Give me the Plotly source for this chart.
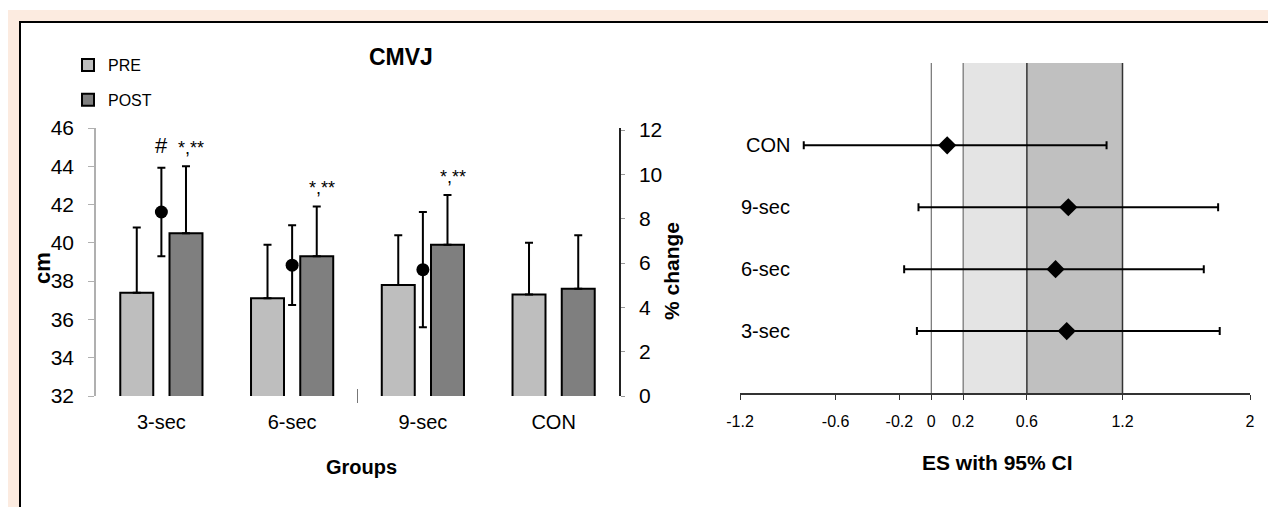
import plotly.graph_objects as go

# page body keeps an 8px margin; the figure fills the rest of the window
OFF = 8
W, H = 1276 - OFF, 507 - OFF

# ---------------- data ----------------
groups = ["3-sec", "6-sec", "9-sec", "CON"]
pre_mean = [37.4, 37.1, 37.8, 37.3]
pre_sd = [3.4, 2.8, 2.6, 2.7]
post_mean = [40.5, 39.3, 39.9, 37.6]
post_sd = [3.5, 2.6, 2.6, 2.8]
pct_groups = ["3-sec", "6-sec", "9-sec"]
pct_change = [8.3, 5.9, 5.7]
pct_sd = [2.0, 1.8, 2.6]
post_marks = ["*,**", "*,**", "*,**", ""]
pct_marks = ["#", "", ""]

es_groups = ["3-sec", "6-sec", "9-sec", "CON"]
es_value = [0.85, 0.78, 0.86, 0.10]
es_lo = [-0.09, -0.17, -0.08, -0.80]
es_hi = [1.81, 1.71, 1.80, 1.10]
es_ticks = [-1.2, -0.6, -0.2, 0, 0.2, 0.6, 1.2, 2]
es_bands = [(0.2, 0.6, "#E4E4E4"), (0.6, 1.2, "#C0C0C0")]
es_lines = [0, 0.2, 0.6, 1.2]

FONT = "Liberation Sans, Arial, sans-serif"


def px_x(p):
    return (p - OFF) / W


def px_y(p):
    return 1 - (p - OFF) / H


fig = go.Figure()

fig.add_trace(go.Bar(
    x=groups, y=pre_mean, name="PRE", legendgroup="pre",
    marker=dict(color="#BEBEBE", line=dict(color="black", width=2)),
    error_y=dict(type="data", array=pre_sd, arrayminus=[0] * len(pre_sd), symmetric=False,
                 color="black", thickness=2, width=4),
    xaxis="x", yaxis="y",
))
fig.add_trace(go.Bar(
    x=groups, y=post_mean, name="POST", legendgroup="post",
    marker=dict(color="#7F7F7F", line=dict(color="black", width=2)),
    error_y=dict(type="data", array=post_sd, arrayminus=[0] * len(post_sd), symmetric=False,
                 color="black", thickness=2, width=4),
    xaxis="x", yaxis="y",
))
fig.add_trace(go.Scatter(
    x=pct_groups, y=pct_change, mode="markers", showlegend=False,
    marker=dict(color="black", size=13),
    error_y=dict(type="data", array=pct_sd, color="black", thickness=2, width=4),
    xaxis="x", yaxis="y2",
))

fig.add_trace(go.Scatter(
    x=es_value, y=es_groups, mode="markers", showlegend=False,
    marker=dict(symbol="diamond", color="black", size=14),
    error_x=dict(type="data",
                 array=[h - v for h, v in zip(es_hi, es_value)],
                 arrayminus=[v - l for v, l in zip(es_value, es_lo)],
                 symmetric=False, color="black", thickness=2, width=4),
    xaxis="x3", yaxis="y3",
))

shapes = []
# page frame
shapes.append(dict(type="rect", xref="paper", yref="paper", x0=0, x1=1, y0=px_y(22), y1=px_y(10),
                   fillcolor="#FCEBE0", line=dict(width=0), layer="below"))
shapes.append(dict(type="rect", xref="paper", yref="paper", x0=0, x1=px_x(20), y0=0, y1=px_y(22),
                   fillcolor="#FCEBE0", line=dict(width=0), layer="below"))
shapes.append(dict(type="line", xref="paper", yref="paper", x0=px_x(19), x1=px_x(1271), y0=px_y(22), y1=px_y(22),
                   line=dict(color="black", width=2)))
shapes.append(dict(type="line", xref="paper", yref="paper", x0=px_x(20), x1=px_x(20), y0=0, y1=px_y(22),
                   line=dict(color="black", width=2)))
# stray tick between category groups
shapes.append(dict(type="line", xref="x", yref="paper", x0=1.5, x1=1.5, y0=px_y(403), y1=px_y(389),
                   line=dict(color="#777777", width=1)))
# ES bands and reference lines
for a, b, c in es_bands:
    shapes.append(dict(type="rect", xref="x3", yref="y3 domain", x0=a, x1=b, y0=0, y1=1,
                       fillcolor=c, line=dict(width=0), layer="below"))
for v in es_lines:
    shapes.append(dict(type="line", xref="x3", yref="y3 domain", x0=v, x1=v, y0=0, y1=1,
                       line=dict(color="#333333" if v >= 0.6 else "#555555", width=1.5 if v >= 0.6 else 1),
                       layer="below"))


def label(text, x, y, size, angle=0):
    return dict(text=text, xref="paper", yref="paper", x=px_x(x), y=px_y(y),
                xanchor="center", yanchor="middle", textangle=angle, showarrow=False,
                font=dict(family=FONT, size=size, color="black"))


annotations = [
    label("<b>CMVJ</b>", 401, 57, 23),
    label("<b>cm</b>", 42, 268, 22, -90),
    label("<b>% change</b>", 671, 271, 21, -90),
    label("<b>Groups</b>", 361, 467, 20),
    label("<b>ES with 95% CI</b>", 997, 462, 21),
]
for g, m, s, mk in zip(groups, post_mean, post_sd, post_marks):
    if mk:
        annotations.append(dict(text=mk, x=g, y=m + s, xref="x", yref="y",
                                xanchor="center", yanchor="bottom",
                                xshift=30, yshift=6, showarrow=False,
                                font=dict(family=FONT, size=18, color="black")))
for g, m, s, mk in zip(pct_groups, pct_change, pct_sd, pct_marks):
    if mk:
        annotations.append(dict(text=mk, x=g, y=m + s, xref="x", yref="y2",
                                xanchor="center", yanchor="bottom",
                                yshift=8, showarrow=False,
                                font=dict(family=FONT, size=22, color="black")))
for g in es_groups:
    annotations.append(dict(text=g, x=es_ticks[0], y=g, xref="x3", yref="y3",
                            xanchor="right", yanchor="middle",
                            xshift=52, showarrow=False, font=dict(family=FONT, size=20, color="black")))

fig.update_layout(
    width=W, height=H,
    margin=dict(l=0, r=0, t=0, b=0, pad=0, autoexpand=False),
    paper_bgcolor="white", plot_bgcolor="rgba(0,0,0,0)",
    barmode="group", bargap=0.247, bargroupgap=0.33,
    showlegend=True,
    legend=dict(x=px_x(68), y=px_y(48), xanchor="left", yanchor="top",
                font=dict(family=FONT, size=16, color="black"),
                tracegroupgap=11, bgcolor="rgba(0,0,0,0)"),
    xaxis=dict(domain=[px_x(96), px_x(619)], anchor="y", showline=False, ticks="", automargin=False,
               showgrid=False, zeroline=False, categoryorder="array", categoryarray=groups,
               tickfont=dict(family=FONT, size=20, color="black"), ticklabelstandoff=12),
    yaxis=dict(domain=[px_y(396), px_y(128)], range=[32, 46], dtick=2, anchor="x", automargin=False,
               showline=True, linecolor="#B0B0B0", linewidth=1.5, ticks="outside", ticklen=6,
               tickcolor="#B0B0B0", showgrid=False, zeroline=False, ticklabelstandoff=10,
               tickfont=dict(family=FONT, size=21, color="black")),
    yaxis2=dict(overlaying="y", side="right", anchor="x", range=[0, 12.09], dtick=2, automargin=False,
                showline=True, linecolor="#222222", linewidth=1.5, ticks="outside", ticklen=4,
                tickcolor="#999999", showgrid=False, zeroline=False, ticklabelstandoff=10,
                tickfont=dict(family=FONT, size=21, color="black")),
    xaxis3=dict(domain=[px_x(740), px_x(1250)], anchor="y3", range=[-1.2, 2], automargin=False,
                tickvals=es_ticks, ticktext=[f"{v:g}" for v in es_ticks],
                showline=True, linecolor="#333333", linewidth=1.5, ticks="outside", ticklen=5,
                tickcolor="#333333", showgrid=False, zeroline=False, ticklabelstandoff=8,
                tickfont=dict(family=FONT, size=16, color="black")),
    yaxis3=dict(domain=[px_y(393), px_y(63)], anchor="x3", range=[-1, 4.33], automargin=False,
                categoryorder="array", categoryarray=es_groups,
                showline=False, showticklabels=False, ticks="", showgrid=False, zeroline=False),
    shapes=shapes, annotations=annotations,
)

fig.write_html("out.html")
